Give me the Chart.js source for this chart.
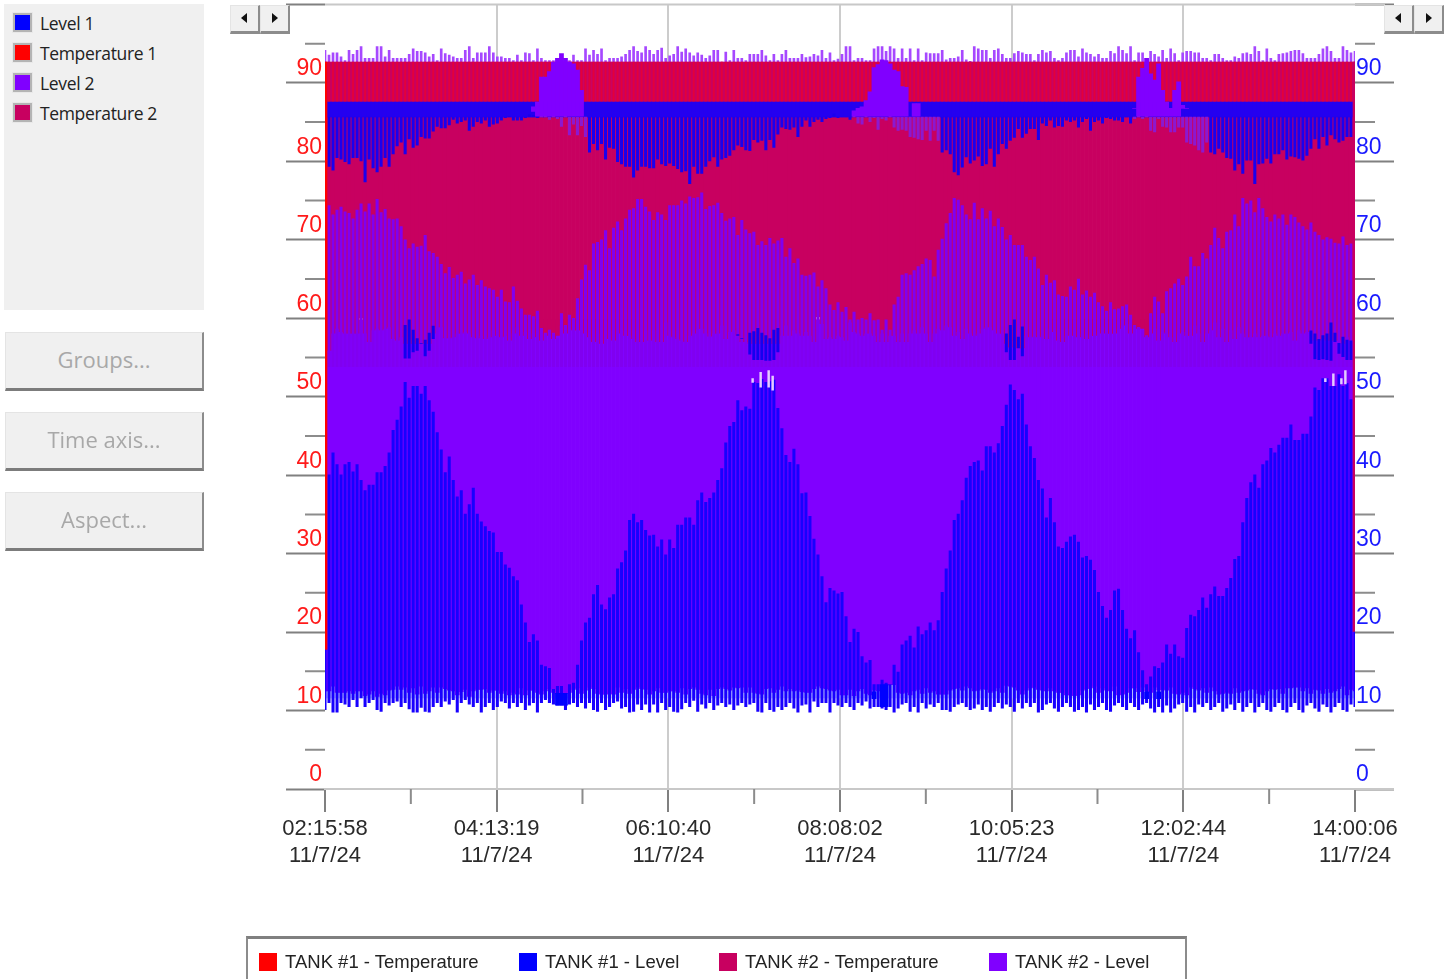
<!DOCTYPE html>
<html>
<head>
<meta charset="utf-8">
<title>Tank trend</title>
<script src="https://cdn.jsdelivr.net/npm/chart.js@4/dist/chart.umd.min.js"></script>
<style>
  html, body { margin: 0; padding: 0; background: #fff; width: 1452px; height: 979px; overflow: hidden; }
  #trend { position: absolute; left: 0; top: 0; }
  .panel { position: absolute; left: 4px; top: 4px; width: 200px; height: 306px; background: #f0f0f0; }
  .row { position: absolute; left: 8px; height: 22px; font: 17.5px "Open Sans", sans-serif; color: #222; line-height: 22px; white-space: nowrap; }
  .row i { position: absolute; left: 0; top: 0; width: 15px; height: 15px; border: 3px solid #b4b4b4; outline: 1px solid #e8e8e8; outline-offset: -1px; }
  .row span { position: absolute; left: 28px; top: 0; letter-spacing: -0.35px; }
  .btn { position: absolute; left: 5px; width: 196px; height: 55px; background: #f0f0f0; border-top: 1px solid #e4e4e4; border-left: 1px solid #e4e4e4; border-right: 2px solid #8c8c8c; border-bottom: 3px solid #7c7c7c; color: #a8a8a8; font: 22px/52px "Open Sans", sans-serif; text-align: center; }
  .arrow { position: absolute; top: 5px; width: 27px; height: 25px; background: #f0f0f0; border-top: 1px solid #e4e4e4; border-left: 1px solid #e4e4e4; border-right: 2px solid #8c8c8c; border-bottom: 3px solid #8c8c8c; }
  .arrow b { position: absolute; top: 7px; width: 0; height: 0; border-top: 5px solid transparent; border-bottom: 5px solid transparent; }
  .arrow.l b { left: 10px; border-right: 6px solid #111; }
  .arrow.r b { left: 11px; border-left: 6px solid #111; }
  .bottom { position: absolute; left: 246px; top: 936px; width: 937px; height: 50px; border: 2px solid #8c8c8c; border-top: 3px solid #808080; }
  .key { position: absolute; top: 953px; font: 18.5px "Liberation Sans", sans-serif; color: #222; white-space: nowrap; line-height: 20px; }
  .key i { position: absolute; left: 0; top: 0; width: 18px; height: 18px; }
  .key span { position: absolute; left: 26px; top: -1px; }
</style>
</head>
<body>
<canvas id="trend" width="1452" height="979"></canvas>

<div class="panel"></div>
<div class="row" style="top:12px;left:12px"><i style="background:#0000ff"></i><span>Level 1</span></div>
<div class="row" style="top:42px;left:12px"><i style="background:#ff0000"></i><span>Temperature 1</span></div>
<div class="row" style="top:72px;left:12px"><i style="background:#8000ff"></i><span>Level 2</span></div>
<div class="row" style="top:102px;left:12px"><i style="background:#c80060"></i><span>Temperature 2</span></div>

<div class="btn" style="top:332px">Groups...</div>
<div class="btn" style="top:412px">Time axis...</div>
<div class="btn" style="top:492px">Aspect...</div>

<div class="arrow l" style="left:230px"><b></b></div>
<div class="arrow r" style="left:260px"><b></b></div>
<div class="arrow l" style="left:1384px"><b></b></div>
<div class="arrow r" style="left:1414px"><b></b></div>

<div class="bottom"></div>
<div class="key" style="left:259px"><i style="background:#ff0000"></i><span>TANK #1 - Temperature</span></div>
<div class="key" style="left:519px"><i style="background:#0000ff"></i><span>TANK #1 - Level</span></div>
<div class="key" style="left:719px"><i style="background:#c80060"></i><span>TANK #2 - Temperature</span></div>
<div class="key" style="left:989px"><i style="background:#8000ff"></i><span>TANK #2 - Level</span></div>

<script>
// Time axis (seconds after 02:15:58)
const spanSeconds = 42248;
const tickSeconds = [0, 7041, 14082, 21124, 28165, 35206, 42248];
const tickTimes = ["02:15:58", "04:13:19", "06:10:40", "08:08:02", "10:05:23", "12:02:44", "14:00:06"];
const tickDates = ["11/7/24", "11/7/24", "11/7/24", "11/7/24", "11/7/24", "11/7/24", "11/7/24"];
const valueTicks = [0, 10, 20, 30, 40, 50, 60, 70, 80, 90];

// Flat limits the signals saturate at
const tempCeiling = 92.9;
const levelBandTop = 87.8;
const levelBandBottom = 85.9;
const level2Base = 54;
const level2Roof = 60;
const gapFloor = 11.7;

// Level 2, peak of every swing above the temperature ceiling
const level2Top = [
  94.4,93.8,94.1,94.1,93.6,93.1,94.4,93.9,94.4,94.9,93.4,93.4,93.4,94.9,94.9,93.6,94.4,93.4,93.4,93.4,
  93.4,93.9,94.6,94.3,94.3,94.1,93.6,93.9,93.1,94.6,94.0,93.8,93.6,93.4,93.4,94.4,94.9,93.4,94.1,94.1,
  94.1,94.9,94.1,93.6,93.6,93.4,93.4,93.1,93.8,93.1,94.1,94.0,93.1,94.6,93.4,93.1,93.1,93.1,93.1,93.1,
  93.1,93.1,93.8,93.1,93.1,94.6,93.8,94.4,93.9,94.6,93.1,93.4,93.4,93.4,93.6,93.9,94.4,94.9,94.3,94.1,
  94.9,94.4,93.9,94.4,94.7,93.4,
  93.7,93.9,94.9,94.2,94.6,94.1,93.7,94.1,93.8,93.4,93.7,94.4,94.4,92.9,94.2,93.1,94.4,93.4,93.4,93.1,
  93.9,93.9,93.9,94.4,93.7,93.1,93.9,93.1,93.9,94.4,93.4,93.4,93.4,93.9,93.5,93.6,93.9,93.7,94.4,93.4,
  94.1,93.1,93.3,93.9,94.9,94.9,93.1,93.4,93.4,93.1,93.1,94.6,94.9,94.9,94.3,94.9,94.6,93.4,94.6,93.4,
  94.6,93.1,94.6,93.1,94.1,94.0,94.0,94.0,94.4,93.2,93.4,93.4,93.6,94.4,93.2,93.0,94.9,94.6,94.4,94.4,
  93.4,94.4,94.6,93.9,93.4,93.4,
  94.0,94.3,94.1,93.9,93.9,93.1,93.9,94.4,94.1,94.3,93.4,93.1,93.4,94.1,94.4,94.4,93.6,94.6,94.1,93.9,
  93.6,93.9,93.4,93.4,94.3,94.0,94.9,94.4,94.0,94.9,93.1,94.1,94.1,93.1,94.3,93.9,93.6,94.4,93.4,94.6,
  94.0,93.1,94.1,94.3,94.3,94.1,94.1,93.4,93.4,93.1,93.9,93.9,93.4,93.1,93.1,93.6,93.4,94.0,94.1,93.9,
  94.9,94.3,93.1,94.6,93.4,93.1,93.9,94.0,94.1,94.3,94.4,94.4,94.0,93.4,93.4,93.4,93.9,94.6,94.9,94.3,
  93.4,93.4,94.9,94.4,94.1,94.3
];

// Temperature 2, lowest point of every swing
const temp2Low = [
  57,56.1,58.3,58.9,58.5,58.3,58.3,58.3,58.3,60.2,58.3,57.2,58.7,58.9,58.7,58.9,59.1,57.6,57.4,57.8,
  57,57,57,57,57,57,57,58.3,59.1,59.1,57.7,57.7,57.8,58.3,58.3,58.5,58.3,57.8,57.7,58,
  57.6,57.8,58.7,58,57.8,58,57.4,58.3,59.1,58,58.5,57.6,58.3,57.8,57.4,58.3,58,57.6,58,59.3,
  58.3,58.9,58.7,58.7,58.7,58.3,57.8,57.2,58.3,57,57.6,58.7,57.4,58.3,58.7,58,58,57.6,57.2,57.2,
  58.7,57.4,58.7,57.2,57.2,59.7,
  58,57.8,57.6,57.4,57.2,58,58.3,58.9,58.9,58.3,57.9,58.3,58.3,59.3,57.6,58.5,58.7,58,57.2,57.2,
  57,57,57,57,57,57,57,57,58,59.3,58,58.7,58.3,58,58.5,58,57.2,60.4,59.5,57.6,
  57.8,57.6,58,57.8,57.4,59.7,58.5,58.3,58,58.3,58.3,58,57.2,58.3,57.2,58,58,57.2,58.3,57.2,
  58.3,58.7,58.3,59.1,58.3,57.2,58.3,58.9,58.7,59.3,59.1,58,58.5,57.6,58.9,58.3,58,58.3,58.9,59.1,
  59.1,58.7,58.3,58.3,57,56.5,
  57.4,56.4,56.4,58,57.8,58,57.8,58,57.6,58.9,58.5,57.4,57.2,58,58.9,58,57.8,58.3,57.6,58,
  58,58.3,59.1,58.3,58.3,58.3,58.9,59.3,59.5,58.3,58.9,59.1,58.9,57.8,58.3,58.9,57.4,58.5,58.3,57.8,
  57.2,58.3,58.5,58,58,59.3,58.3,57.2,58.3,58.7,59.7,57.8,58.9,57.2,58.7,57.6,59.1,58.3,57.8,57.8,
  58.3,57.8,58,58,57.8,58.3,58,58.3,58.3,58.5,57.4,58.7,58.3,58.5,58.7,57.4,57.4,57.6,57.4,57.4,
  57.4,57.4,57,57.8,57.4,57.4
];

// Level 2, swings reaching up into the temperature 2 fill
const level2Spike = [
  70.6,74.6,73.4,74,74.4,73.8,73.6,72.9,74,74.8,73.8,74.8,73.4,75.4,73.7,74.1,72.9,72.8,72.9,71.9,
  70.2,69.1,69.7,69.3,69.4,70.8,68.7,68.5,68,67.1,65.9,66.7,65.3,65.7,66.1,64.6,65.1,65.7,64.4,65,
  64.2,64,63.8,62.9,63.8,62.3,62.2,64.2,62.4,61.4,60.6,60.6,60.4,61.1,58.9,58.3,58.7,58.3,57.6,60.8,
  59.3,60.6,60.2,62.7,65.1,67,66.3,69.7,69.9,70.2,71.4,69.1,71.7,72.5,71.4,72.9,74,74.2,75.4,75.4,
  74.4,73.8,72.7,73.7,73.4,72.7,
  74.6,74.6,74.6,75.2,74.8,75.7,75.5,75.6,76.2,74.1,74.5,74.6,74.9,73.6,72.6,72.9,73.1,70.8,72.7,71.5,
  71,71.2,69.5,70,69.5,70.4,69.7,70.1,70.4,68,69.1,67.2,67.8,65.7,65.6,65.7,66,64.2,65,64,
  61.9,61.2,62.2,61,61.6,60,61,60,60.2,60,60.8,59.9,60,58.7,60,58.7,61.9,62.9,65.7,65.9,
  65.7,66.3,66.8,67.1,67.8,67.6,65.5,68.9,70.3,72.3,73.6,75.5,75.3,74.6,73.4,72.8,74.9,72.8,74.2,72.9,
  73.9,71.9,72.9,71.8,70.2,70.8,
  69.5,69.5,69.5,68,67.6,68,66.5,64.4,65.7,64.7,65,63.2,63,62.9,64.2,63.8,65.2,63.2,63.7,62.9,
  63.4,62.2,61.7,61.1,62.2,61.3,61.4,61.7,61.9,60.6,59.3,59,58.7,58,60.8,62.9,62.3,60.8,63.6,64,
  64.6,65.2,64.4,65.5,68,66.8,66.8,68.5,67.8,69.5,71.7,70.4,69.1,71.2,71.4,73.4,71.9,75.5,74.8,75.2,
  73.7,75.5,74.2,73.1,72.5,73.4,72.9,73.4,72.1,73.4,73.1,72.4,71.9,71.5,72.4,71.2,70.8,70.2,70.5,70.3,
  69.8,69.7,70.6,69.5,69.7,69.7
];

// Level 1, upper swings hanging below the saturated band
const level1Tip = [
  85.9,79.6,79.1,80.7,80.5,80.2,79.9,80.7,80.7,80.3,77.6,80.5,79.4,78.9,79.6,80.7,79.6,81.2,82.2,82.7,
  81.2,83.1,82,82.3,83.4,83.2,83.2,84.1,84.7,84.5,84.5,84.9,85.6,85.1,85.3,85.5,84.2,84.7,85.3,85.1,
  85.5,84.7,85,85.1,85.5,85.8,86,85.5,85.5,85.5,85.8,86.2,86.1,85.8,86,86,85.6,86,85.7,84.7,
  86.1,83.6,85,83.6,84.8,83.4,81.4,82.5,81.7,82.5,80.5,82,81.9,80.2,79.9,79.6,79.6,78.2,79.1,79.6,
  79.6,79.4,79.4,80.5,79.9,79.7,
  80,79.7,79.3,78.9,79,77.4,79.6,78.7,78.7,79.6,80.3,80.8,79.6,80.5,80.7,81,81.7,82.3,82.1,81.7,
  81.6,83,82.7,82.9,81.7,83,82,83.7,84.6,84.4,84.3,84.6,83.4,84.7,85.5,84.7,85.3,85.6,85.3,85.7,
  85.8,86.3,85.8,85.9,85.9,85.6,86.3,85.1,85,86.1,85.3,85.8,84.3,85.7,85.5,86.1,84.6,84.2,84.3,84.2,
  83.4,83.3,83.1,83,84.2,82.9,84.2,82.9,81.4,81.7,81.2,78.9,78.5,79.5,80.8,80,80.4,80.9,79.7,79.9,
  81.9,79.6,81.2,82.5,81.9,82.9,
  83.3,84.4,83.3,83.8,84.4,84.4,83,85.1,84.8,85.5,84.6,84.8,84.7,85.5,85.3,85.5,84.6,85.3,85.7,84.2,
  85.3,85.5,85.1,85.8,85.7,85.5,85.5,85.3,85.9,85.1,85.7,86.1,85.7,86.1,84.2,84,85.7,84.7,84.6,84,
  84,84.6,84.6,82.7,82.5,82.3,81.7,81.4,82.7,81.4,81.2,81.9,81.4,80.7,80.6,79.1,79.9,78.7,80.4,80.4,
  77.4,79.9,80,80.6,80,81.2,81.2,81.7,80.5,80.9,80.8,80.6,80.4,81,81.9,83.1,81.9,83.4,82.3,83.6,
  83.1,82.7,82.9,83.4,83.4,83.8
];

// Level 1, upper end of the rising swings
const level1Top = [
  41,40.2,43,41.5,40.2,41.5,41.8,40.6,41.5,39.5,38.2,38.9,38.9,40.5,40.5,41.3,43,45.9,47.2,48.9,
  52,50,51.5,51.5,50.5,51.5,49.7,48.2,45.6,43.4,40.5,42.5,39.5,37.4,38.2,35.2,36.4,38.5,35.2,34.2,
  33.6,33,32.8,30.3,30.3,28.7,28.3,27.2,26.7,23.6,21.3,18.8,19.8,19,15.9,15.7,15.5,12.8,13.2,13.2,
  12.1,13.4,13.6,15.9,19,21.3,21.9,24.9,26.1,23.6,23,24.5,24.9,28.2,29,30.5,34.4,35.2,34.1,34.4,
  33.1,32.4,32.5,31,31.9,30,
  31.9,30.8,33.8,33.8,34.7,34.7,33.8,36.9,37.9,36.7,37.2,37.9,39.5,41,44.3,46.4,46.9,49.7,48.4,48.9,
  48.6,52,51.9,52.4,52,52.1,52.3,48.7,46.1,42.7,41.8,43.5,41.5,37.8,37.9,34.9,32,30,27.2,23.9,
  25.7,25.4,25,25.2,22.1,18.8,20.5,20.1,17,16.2,16.5,13.4,13.4,14,13.6,13.4,15.9,15,18.5,19,
  19.6,18.1,20.8,19.8,20.3,21.3,20.3,21.6,25.2,28.2,30.5,34.4,35.2,36.9,39.8,41.3,41.8,42,40.7,43.8,
  43.8,43,44.2,46.4,49.1,51.7,
  51,49.8,50.5,46.6,43.8,42.3,39.5,38.4,34.7,37.2,34.1,31,30.8,31.6,32.3,32.5,31.6,29.6,29.8,29.3,
  28,25.2,23.4,21.9,22.9,25.4,25.6,22.9,20.5,19.3,20.3,17.5,15.2,13.4,14.4,15.7,15.5,16.2,18.5,17.3,
  18.5,17,16.8,20.6,22.3,22.1,22.9,24.5,23.2,24.9,25.9,24.7,24.7,25.7,27,29.4,29.8,34.1,37.2,39.2,
  40.2,38.5,41.5,42,43.6,43,44,44.9,44.9,46.6,44.6,44.6,45.4,45.4,47.6,51.3,51,52.5,52.5,51.5,
  51.5,53,51.5,51.9,49.8,49.8
];

// Level 1, bottom of the swings
const level1Low = [
  10.2,11.1,9.9,9.9,11.1,10.9,10.6,11.5,10.6,11.7,10.6,11.1,11.5,10.2,10.0,11.1,10.8,11.1,11.3,10.6,
  11.1,10.3,9.9,9.9,10.5,10.0,9.9,10.6,11.1,10.6,11.3,10.9,11.5,9.9,11.1,11.5,10.9,10.6,11.1,9.9,
  10.6,11.1,10.2,10.6,11.3,11.1,10.4,11.1,10.6,11.1,10.2,10.8,11.1,9.9,11.1,11.5,11.1,10.9,10.8,10.8,
  10.2,10.9,11.1,10.6,11.1,10.4,11.1,10.2,10.0,11.1,10.2,10.6,11.1,11.3,10.4,10.6,9.9,10.0,10.9,10.2,
  10.9,9.9,10.9,9.9,11.1,10.2,
  10.6,10.0,9.9,10.3,11.1,10.6,11.4,10.0,10.9,10.4,11.1,10.2,10.8,11.1,10.6,10.9,10.2,10.8,11.1,10.6,
  10.9,11.1,10.0,9.9,11.1,10.2,10.0,10.6,10.2,10.6,11.1,10.4,9.9,10.8,10.9,9.9,11.3,10.6,11.1,11.1,
  9.9,11.1,10.8,10.6,11.1,10.6,10.2,11.1,10.8,11.3,10.4,10.6,10.6,10.4,10.2,10.6,9.9,10.4,10.9,11.1,
  10.0,10.6,9.9,11.1,10.4,10.9,10.6,11.1,10.2,10.2,10.0,10.6,10.9,11.1,10.6,10.2,10.4,10.9,10.2,10.6,
  10.0,10.6,11.1,10.4,10.9,10.6,
  10.0,11.1,10.4,11.1,10.6,11.1,9.9,10.2,10.9,11.1,10.4,10.0,10.6,11.1,10.6,10.0,10.2,10.6,9.9,10.9,
  10.2,10.6,11.1,10.2,10.0,10.8,11.1,10.6,10.2,11.1,10.6,10.2,10.9,11.1,10.4,9.9,10.6,9.9,10.8,9.9,
  10.4,10.9,11.1,10.0,10.6,9.9,10.9,10.6,11.1,10.2,10.6,11.1,10.0,10.4,10.9,10.2,11.1,10.0,10.6,11.1,
  9.9,10.6,11.1,10.2,10.0,10.6,11.1,10.2,9.9,10.6,11.1,10.2,9.9,10.8,11.1,10.4,10.0,10.9,10.6,9.9,
  10.6,11.1,10.2,10.0,10.9,10.6
];

// Level 2, lower end of the fill, where the pale gaps stop
const level2Low = [
  12.6,12.6,13.2,12.4,12.4,12.4,12.6,12.3,12.6,12.6,12.0,12.2,12.6,11.9,12.3,12.1,12.7,12.8,13.2,12.8,
  13.1,12.4,13.0,12.2,13.2,12.3,12.6,13.1,12.4,13.1,12.9,12.7,12.6,12.1,12.5,12.8,11.9,12.6,12.8,12.8,
  12.9,12.4,12.7,12.7,12.3,12.6,12.1,12.4,12.2,13.0,12.1,12.7,12.7,12.4,12.2,12.6,12.9,12.4,12.3,12.3,
  12.3,12.4,12.8,13.0,12.3,12.7,13.1,12.9,12.3,12.2,12.2,12.3,12.2,13.1,12.4,12.9,12.3,12.8,13.1,12.9,
  12.8,12.2,12.6,13.0,12.4,12.4,
  12.6,12.6,12.4,13.0,12.2,12.9,13.1,12.8,12.3,12.1,12.8,12.0,12.9,13.1,12.9,12.7,13.1,13.0,13.1,12.4,
  13.1,12.4,12.3,12.2,12.9,13.0,12.4,12.8,13.2,12.6,12.9,12.6,12.7,12.5,12.4,12.4,12.9,13.2,13.0,12.9,
  12.7,12.6,12.8,12.1,12.1,12.8,12.0,12.6,12.9,12.3,12.1,12.7,12.6,13.3,13.3,13.4,13.4,12.4,12.3,12.4,
  12.1,12.6,12.8,12.3,13.0,12.4,12.6,12.2,12.2,12.2,12.7,12.9,13.0,12.7,13.2,13.0,12.6,12.7,12.9,12.8,
  12.4,12.6,13.0,12.4,13.3,13.2,
  13.1,12.7,12.2,12.7,13.0,13.1,12.8,12.7,12.6,13.0,12.6,12.4,12.4,12.1,12.1,12.0,12.1,12.7,12.9,13.0,
  13.2,12.4,13.0,12.7,12.6,13.2,12.1,12.2,12.4,13.0,13.0,12.5,13.1,12.6,12.4,13.1,12.7,12.8,12.7,13.1,
  12.3,12.2,12.4,12.1,13.1,12.9,12.7,13.0,12.4,13.1,12.6,12.2,12.3,12.4,12.3,13.0,12.4,12.6,12.7,12.9,
  12.8,12.3,12.1,12.6,12.9,12.8,12.9,12.3,13.0,13.0,13.1,13.1,12.6,13.0,12.3,12.8,12.7,12.3,12.9,12.4,
  12.6,12.9,13.2,12.1,12.8,12.6
];

// Level 2 humps that push through the temperature ceiling
const humpIndex = [52,53,54,55,56,57,58,59,60,61,62,63,64, 132,133,134,135,136,137,138,139,140,141,142,143,144,145, 147,148, 202,203,204,205,206,207,208,209,210,211,212,213,214,215];
const humpLow = [86.6,86,86,86,86,86,86,86,86,86,86,86,86, 86,86,86,86,86,86,86,86,86,86,86,86,86,86, 86,86, 87,86,86,86,86,86,86,86,86,86,86,86,87,87];
const humpTop = [87.2,87.8,91,91,91.7,92.9,93.4,94,93.4,92.9,92.7,91.9,89.3, 86.7,87,87.2,88,89.1,92.2,92.6,93.2,93.1,92.7,91.9,91.7,89.8,89.7, 87.6,87.6, 87,91,92.1,93.4,91.4,90.6,92.7,89.3,87.8,87,89.3,90.4,87.4,87];

// Level 1 bursts that climb above the level 2 fill
const burstIndex = [20,21,22,23,24,25,26,27, 103,104, 106,107,108,109,110,111,112,113, 170,171,172,173,174, 246,247,248,249,250,251,252,253,254,255,256,257];
const burstLow = [55.1,55.1,55.9,56.1,57,55.4,56.1,57.6, 58,57.6, 55.6,54.9,54.9,54.9,54.8,54.8,54.9,55.9, 55.9,54.9,54.9,56.4,55.4, 57,55,54.9,55,54.9,54.8,57.2,55.7,55.3,54.9,54.9,54.9];
const burstTop = [59.3,60,58.7,57.6,57,57.4,58.3,59.2, 58.1,57.6, 58.3,58.5,58.9,58.3,58,57.6,58.7,58.9, 58.2,59.3,60,57.8,59.1, 58.6,58.2,57.5,58,58.2,59.6,58.3,57,57.8,57.4,57.3,58.3];

// Solid Level 1 blobs at the bottom of each valley
const blobIndex = [58,59,60,137,139,140,205,208];
const blobLow = [10.8,10.8,10.8,11.6,10.6,10.6,11.6,11.6];
const blobTop = [12.3,12.3,12.3,12.5,13.4,13.4,12.5,12.5];

// White gaps where neither level is drawn
const gapIndex = [106.7,108.7,110.7,111.7,249.6,251.6,253.6,254.6];
const gapLow = [52,51.4,51.4,51,52.1,51.6,51.8,51.8];
const gapTop = [52.5,53.3,53.5,52.8,52.5,53.1,52.5,53.5];

const sampleCount = level1Top.length;
const sampleStep = spanSeconds / (sampleCount - 1);

function fullBars(low, high) {
  const out = [];
  for (let i = 0; i < sampleCount; i++) {
    out.push({ x: i * sampleStep, y: [Array.isArray(low) ? low[i] : low, Array.isArray(high) ? high[i] : high] });
  }
  return out;
}

function sparseBars(index, low, high) {
  return index.map((k, i) => ({ x: k * sampleStep, y: [low[i], high[i]] }));
}

function nearHump(i) {
  return (i >= 54 && i <= 65) || (i >= 132 && i <= 153) || (i >= 202 && i <= 220);
}

// Minor ticks and the frame lines the axes do not draw
const frameLines = {
  id: "frameLines",
  beforeDatasetsDraw(chart) {
    const { ctx, chartArea } = chart;
    ctx.save();
    ctx.strokeStyle = "#c8c8c8";
    ctx.lineWidth = 2;
    ctx.beginPath();
    ctx.moveTo(chartArea.left, chartArea.top);
    ctx.lineTo(chartArea.right + 30, chartArea.top);
    ctx.moveTo(chartArea.right, chartArea.bottom);
    ctx.lineTo(chartArea.right + 39, chartArea.bottom);
    ctx.stroke();
    ctx.restore();
  },
  afterDraw(chart) {
    const { ctx, chartArea, scales } = chart;
    ctx.save();
    ctx.strokeStyle = "#8c8c8c";
    ctx.lineWidth = 2;
    ctx.beginPath();
    valueTicks.forEach(v => {
      const y = scales.y.getPixelForValue(v + 5);
      ctx.moveTo(chartArea.left - 20, y);
      ctx.lineTo(chartArea.left, y);
      ctx.moveTo(chartArea.right, y);
      ctx.lineTo(chartArea.right + 20, y);
    });
    for (let i = 0; i < tickSeconds.length - 1; i++) {
      const x = scales.x.getPixelForValue((tickSeconds[i] + tickSeconds[i + 1]) / 2);
      ctx.moveTo(x, chartArea.bottom);
      ctx.lineTo(x, chartArea.bottom + 15);
    }
    ctx.stroke();
    ctx.restore();
  }
};

function layer(name, data, color, thickness) {
  return { label: name, data: data, yAxisID: "yReadings", backgroundColor: color, barThickness: thickness, borderWidth: 0, grouped: false };
}

// First dataset ends up on top
const datasets = [
  layer("gaps", sparseBars(gapIndex, gapLow, gapTop), "#e4ccff", 1.8),
  layer("Level 2 humps", sparseBars(humpIndex, humpLow, humpTop), "#8000ff", 4.1),
  layer("Level 1 blobs", sparseBars(blobIndex, blobLow, blobTop), "#0000ff", 4.1),
  layer("Level 1 bursts", sparseBars(burstIndex, burstLow, burstTop), "#1400f0", 2.4),
  layer("Level 1 upper", fullBars(level1Tip, levelBandBottom), ctx => nearHump(ctx.dataIndex) ? "#8c18d0" : "#1a00ee", 2.4),
  layer("Level 1 band", fullBars(levelBandBottom, levelBandTop), "#2400f0", 4.1),
  layer("Level 2 spikes", fullBars(level2Base, level2Spike), "#8000f0", 2.4),
  layer("Temperature 1", fullBars(levelBandTop, tempCeiling), "#e4003a", 1.2),
  layer("Temperature 2", fullBars(temp2Low, tempCeiling), "#c80060", 4.1),
  layer("Level 1", fullBars(level1Low, level1Top), "#1800ff", 2.4),
  layer("Level 2", fullBars(level2Low, level2Roof), "#8000ff", 4.1),
  layer("Level 1 gaps", fullBars(gapFloor, level2Low), "#c4ceff", 4.1),
  layer("Level 2 peaks", fullBars(tempCeiling - 0.4, level2Top), "#a648ff", 2),
  { label: "edges", data: [{ x: 0, y: [17.9, tempCeiling] }, { x: spanSeconds, y: [20.2, tempCeiling] }], yAxisID: "yReadings",
    backgroundColor: ["#ff0000", "#c80060"], barThickness: 4, borderWidth: 0, grouped: false, order: -1 }
];

new Chart(document.getElementById("trend"), {
  type: "bar",
  data: { datasets: datasets },
  plugins: [frameLines],
  options: {
    responsive: false,
    animation: false,
    events: [],
    parsing: { xAxisKey: "x", yAxisKey: "y" },
    layout: { padding: { left: 286, right: 58, top: 4.4, bottom: 0 } },
    plugins: { legend: { display: false }, tooltip: { enabled: false } },
    scales: {
      x: {
        type: "linear",
        min: 0,
        max: spanSeconds,
        offset: false,
        afterFit: s => { s.height = 190; },
        afterBuildTicks: s => { s.ticks = tickSeconds.map(v => ({ value: v })); },
        grid: {
          offset: false,
          color: c => (c.index === 0 || c.index === tickSeconds.length - 1) ? "rgba(0,0,0,0)" : "#cccccc",
          lineWidth: 2,
          tickColor: "#808080",
          tickWidth: 2,
          tickLength: 23
        },
        border: { color: "#c8c8c8", width: 2 },
        ticks: {
          autoSkip: false,
          maxRotation: 0,
          minRotation: 0,
          padding: 4,
          color: "#2a2a2a",
          font: { family: "'Liberation Sans'", size: 22 },
          callback: value => {
            const k = tickSeconds.indexOf(value);
            return k < 0 ? "" : [tickTimes[k], tickDates[k]];
          }
        }
      },
      // values were read at 7.83 px per unit, a hair tighter than the printed ticks
      yReadings: { axis: "y", position: "left", display: false, min: 0.08, max: 100.28 },
      y: {
        position: "left",
        min: 0,
        max: 100,
        afterFit: s => { s.width = 39; },
        grid: { drawOnChartArea: false, tickColor: "#808080", tickWidth: 2, tickLength: 39 },
        border: { display: false },
        ticks: {
          stepSize: 10,
          padding: -36,
          labelOffset: -14,
          color: "#ff1a1a",
          font: { family: "'Liberation Sans'", size: 23 },
          callback: v => valueTicks.includes(v) ? String(v) : ""
        }
      },
      y2: {
        position: "right",
        min: 0,
        max: 100,
        afterFit: s => { s.width = 39; },
        grid: { drawOnChartArea: false, tickColor: "#808080", tickWidth: 2, tickLength: 39 },
        border: { display: false },
        ticks: {
          stepSize: 10,
          padding: -38,
          labelOffset: -14,
          color: "#1a1aff",
          font: { family: "'Liberation Sans'", size: 23 },
          callback: v => valueTicks.includes(v) ? String(v) : ""
        }
      }
    }
  }
});
</script>
</body>
</html>
